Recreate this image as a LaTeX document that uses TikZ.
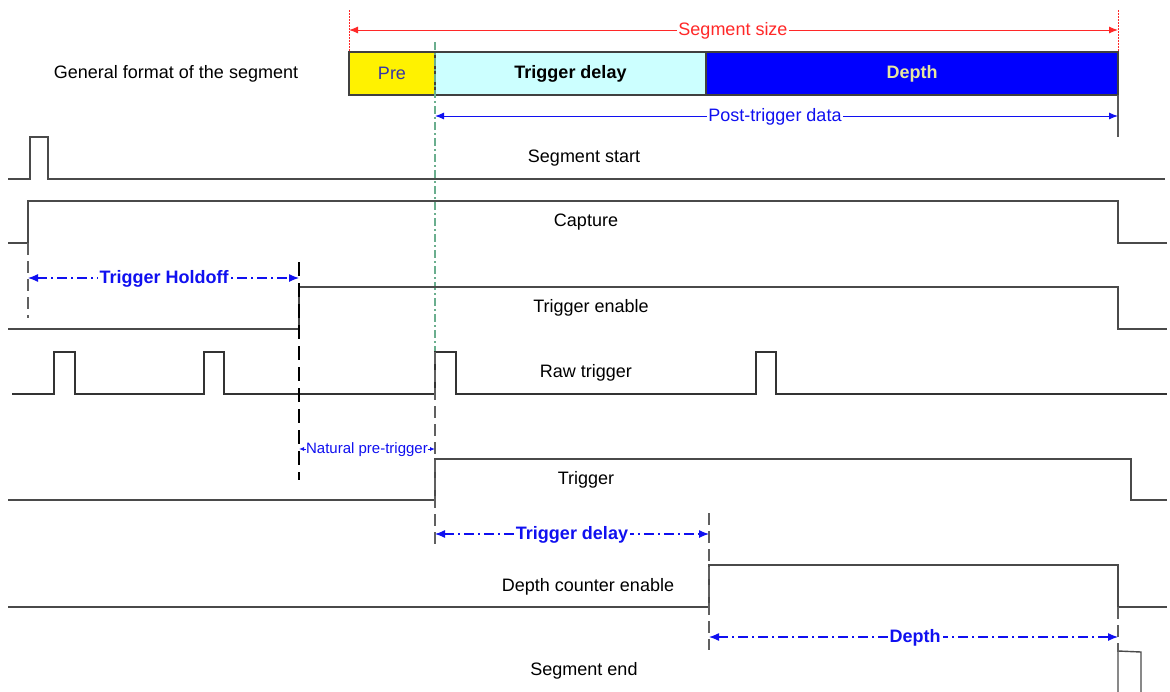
\documentclass[tikz,border=0pt]{standalone}
\usepackage{fontspec}
\setmainfont{Liberation Sans}
\usetikzlibrary{arrows.meta}
\definecolor{sigc}{HTML}{4A4A4A}
\definecolor{dimblue}{HTML}{1010F0}
\definecolor{segred}{HTML}{FF2828}
\definecolor{guidegreen}{HTML}{6AAE8E}
\definecolor{cyanbox}{HTML}{CCFFFF}
\definecolor{depthtext}{HTML}{E6E6A0}
\definecolor{pretext}{HTML}{3535A8}
\begin{document}
\begin{tikzpicture}[x=1pt,y=-1pt,
  sig/.style={draw=sigc, line width=1.4pt, line join=miter},
  lab/.style={font=\fontsize{18}{21}\selectfont, inner sep=1pt},
  blab/.style={font=\fontsize{18}{21}\selectfont\bfseries, text=dimblue, fill=white, inner sep=2pt},
  dimarrow/.style={draw=dimblue, line width=1.2pt, dash pattern=on 10pt off 4pt on 2pt off 4pt, {Latex[length=10pt,width=8pt]}-{Latex[length=10pt,width=8pt]}},
  guide/.style={draw=gray!75!black, line width=1.3pt, dash pattern=on 12pt off 6pt},
  bguide/.style={draw=black, line width=1.2pt, dash pattern=on 14pt off 7pt},
  segbox/.style={draw=black!75, line width=1.2pt, minimum height=43pt, anchor=north west, inner sep=0pt, outer sep=0pt, font=\fontsize{18}{21}\selectfont},
]
\useasboundingbox (0,0) rectangle (1170,691);

% ---------- general format ----------
\node[lab, anchor=center] (gf) at (176,74) {General format of the segment};

\draw[segred, line width=0.9pt, dash pattern=on 1.5pt off 1.5pt] (349,10) -- (349,52);
\draw[segred, line width=0.9pt, dash pattern=on 1.5pt off 1.5pt] (1118,10) -- (1118,52);
\coordinate (ssL) at (349,30);
\coordinate (ssR) at (1118,30);
\draw[segred, line width=1pt, {Latex[length=9pt,width=7pt]}-{Latex[length=9pt,width=7pt]}] (ssL) -- (ssR);
\node[lab, text=segred, fill=white] (ss) at (733,31) {Segment size};

\node[segbox, fill=yellow, minimum width=86pt, text=pretext] (pre) at (349,52) {Pre};
\node[segbox, fill=cyanbox, minimum width=271pt, font=\fontsize{18}{21}\selectfont\bfseries] (td) at (435,52) {Trigger delay};
\node[segbox, fill=blue, minimum width=412pt, text=depthtext, font=\fontsize{18}{21}\selectfont\bfseries] (dp) at (706,52) {Depth};

\draw[gray!70!black, line width=1.3pt] (1118,95) -- (1118,137);
\coordinate (ptL) at (435,116);
\coordinate (ptR) at (1118,116);
\draw[dimblue, line width=1pt, {Latex[length=9pt,width=7pt]}-{Latex[length=9pt,width=7pt]}] (ptL) -- (ptR);
\node[lab, text=dimblue, fill=white] (pt) at (775,117) {Post-trigger data};

% trigger guide line
\draw[guidegreen, line width=1.2pt, dash pattern=on 8pt off 3pt on 2pt off 3pt] (435,42) -- (435,352);

% ---------- signals ----------
\draw[sig] (8,179) -- (30,179) -- (30,137) -- (48,137) -- (48,179) -- (1165,179);
\node[lab] (s1) at (584,158) {Segment start};

\draw[sig] (8,243) -- (28,243) -- (28,201) -- (1118,201) -- (1118,243) -- (1167,243);
\node[lab] (s2) at (586,222) {Capture};

\draw[sig] (8,329) -- (299,329) -- (299,287) -- (1118,287) -- (1118,329) -- (1167,329);
\node[lab] (s3) at (591,308) {Trigger enable};

\draw[sig, draw=black!80] (12,394) -- (54,394) -- (54,352) -- (75,352) -- (75,394)
  -- (204,394) -- (204,352) -- (224,352) -- (224,394)
  -- (435,394) -- (435,352) -- (456,352) -- (456,394)
  -- (756,394) -- (756,352) -- (776,352) -- (776,394) -- (1167,394);
\node[lab] (s4) at (586,373) {Raw trigger};

\draw[sig] (8,500) -- (435,500) -- (435,459) -- (1131,459) -- (1131,500) -- (1167,500);
\node[lab] (s5) at (586,480) {Trigger};

\draw[sig] (8,607) -- (709,607) -- (709,565) -- (1118,565) -- (1118,607) -- (1167,607);
\node[lab] (s6) at (588,587) {Depth counter enable};

\draw[sig] (1118,695) -- (1118,651) -- (1141,652) -- (1141,695);
\node[lab] (s7) at (584,671) {Segment end};

% ---------- guides ----------
\draw[guide] (28,243) -- (28,318);
\draw[bguide] (299,262) -- (299,480);
\draw[guide] (435,352) -- (435,548);
\draw[guide] (709,513) -- (709,650);
\draw[guide] (1118,607) -- (1118,652);

% ---------- dimension arrows ----------
\coordinate (thL) at (28,278);
\coordinate (thR) at (299,278);
\draw[dimarrow] (thL) -- (thR);
\node[blab] (th) at (164,279) {Trigger Holdoff};

\coordinate (npL) at (299,449);
\coordinate (npR) at (435,449);
\draw[draw=dimblue, line width=0.9pt, {Latex[length=5pt,width=4pt]}-{Latex[length=5pt,width=4pt]}] (npL) -- (npR);
\node[font=\fontsize{15}{17}\selectfont, text=dimblue, fill=white, inner sep=0.3pt] (np) at (367,450) {Natural pre-trigger};

\coordinate (tdL) at (435,534);
\coordinate (tdR) at (709,534);
\draw[dimarrow] (tdL) -- (tdR);
\node[blab] (tdl) at (572,535) {Trigger delay};

\coordinate (dL) at (709,637);
\coordinate (dR) at (1118,637);
\draw[dimarrow] (dL) -- (dR);
\node[blab] (dl) at (915,638) {Depth};
\end{tikzpicture}
\end{document}
